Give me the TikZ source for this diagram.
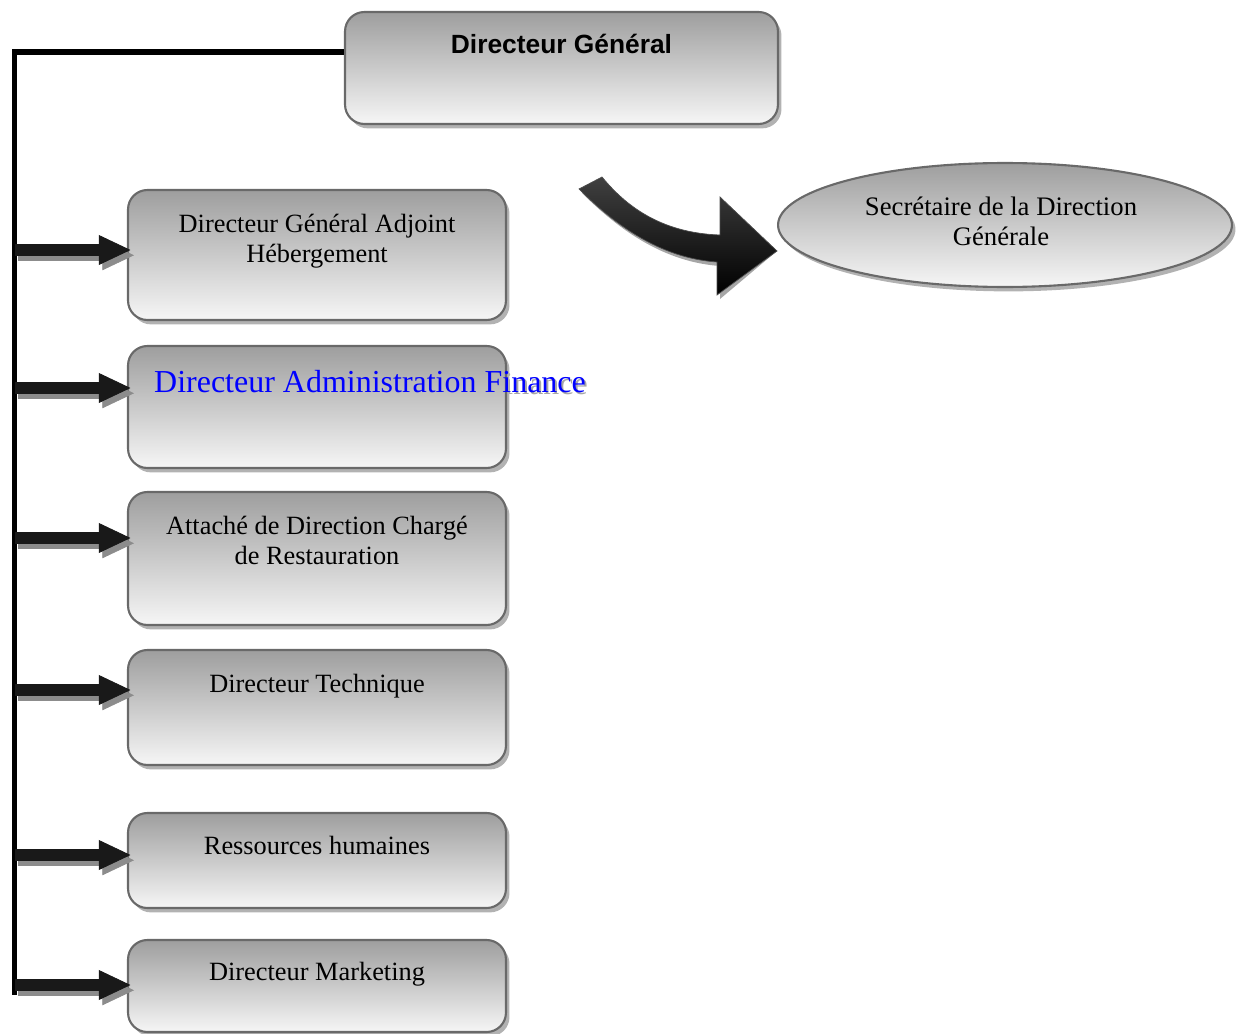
\documentclass[tikz,border=0pt]{standalone}
\usepackage{fontspec}
\setmainfont{Liberation Serif}
\setsansfont{Liberation Sans}
\usetikzlibrary{positioning,shapes.geometric,shadows,arrows.meta}
\definecolor{orgborder}{RGB}{105,105,105}
\definecolor{orgtop}{RGB}{158,158,158}
\definecolor{orgbottom}{RGB}{246,246,246}
\definecolor{orgblue}{RGB}{0,0,255}

\tikzset{
  orgshadow/.style={drop shadow={shadow xshift=2pt, shadow yshift=-2.5pt, fill=black!30, opacity=1}},
  orgbox/.style={draw=orgborder, line width=1.2pt, rounded corners=11pt,
    top color=orgtop, bottom color=orgbottom, minimum width=7.56cm,
    inner sep=0pt, orgshadow},
  orgtxt/.style={font=\fontsize{15}{17}\selectfont, align=center, inner sep=0pt},
  blockarrow/.style={line width=7pt, -{Triangle[width=17pt,length=18pt,line width=0.4pt]}, shorten >=-2pt},
}

\begin{document}
\begin{tikzpicture}[x=0.02cm, y=-0.02cm]
        \useasboundingbox (0,0) rectangle (1237,1034);

        % Top box
        \node[orgbox, minimum width=8.66cm, minimum height=2.24cm] (DG) at (561.5,68) {};
        \node[orgtxt, font=\sffamily\bfseries\fontsize{15}{17}\selectfont, below=0.46cm of DG.north] (tDG) {Directeur Général};

        % Secretary
        \node[ellipse, draw=orgborder, line width=1.2pt, top color=orgtop, bottom color=orgbottom,
              minimum width=9.08cm, minimum height=2.48cm, orgtxt, orgshadow] (SDG) at (1005,225) {};
        \node[orgtxt, font=\fontsize{15.2}{17}\selectfont] (tSDG) at (1001,221) {Secrétaire de la Direction\\Générale};

        % Curved arrow towards secretary
        \coordinate (tip) at (777,251);
        \fill[black!35, shift={(3,4)}] (602,177) .. controls (625,205) and (660,233) .. (720,235)
            -- (720,197) -- (tip) -- (717,295) -- (717,262)
            .. controls (660,258) and (615,225) .. (579,189) -- cycle;
        \draw[black!70, top color=black!75, bottom color=black] (602,177) .. controls (625,205) and (660,233) .. (720,235)
            -- (720,197) -- (tip) -- (717,295) -- (717,262)
            .. controls (660,258) and (615,225) .. (579,189) -- cycle;

        % Boxes
        \node[orgbox, minimum height=2.6cm] (b1) at (317,255) {};
        \node[orgtxt, below=0.5cm of b1.north] (t1) {Directeur Général Adjoint\\Hébergement};

        \node[font=\fontsize{18.2}{20}\selectfont, text=black!35, anchor=base, inner sep=0pt] (t2s) at (372,394) {Directeur Administration Finance};
        \node[orgbox, minimum height=2.44cm] (b2) at (317,407) {};
        \node[font=\fontsize{18.2}{20}\selectfont, text=orgblue, anchor=base, inner sep=0pt] (t2) at (370,392) {Directeur Administration Finance};

        \node[orgbox, minimum height=2.66cm] (b3) at (317,558.5) {};
        \node[orgtxt, below=0.5cm of b3.north] (t3) {Attaché de Direction Chargé\\de Restauration};

        \node[orgbox, minimum height=2.3cm] (b4) at (317,707.5) {};
        \node[orgtxt, below=0.5cm of b4.north] (t4) {Directeur Technique};

        \node[orgbox, minimum height=1.9cm] (b5) at (317,860.5) {};
        \node[orgtxt, below=0.48cm of b5.north] (t5) {Ressources humaines};

        \node[orgbox, minimum height=1.84cm] (b6) at (317,986) {};
        \node[orgtxt, below=0.46cm of b6.north] (t6) {Directeur Marketing};

        % Trunk
        \coordinate (top) at (14.5,52);
        \coordinate (bot) at (14.5,995);
        \draw[line width=3pt, line join=miter] (top -| DG.west) -- (top) -- (bot);

        % Block arrows
        \foreach \b/\y in {b1/250,b2/388,b3/538,b4/690,b5/855,b6/985}{
          \coordinate (s-\b) at (14.5,\y);
          \draw[blockarrow, black!45, transform canvas={shift={(2pt,-3pt)}}] (s-\b) -- (\b.west |- s-\b);
          \draw[blockarrow, black!90] (s-\b) -- (\b.west |- s-\b);
        }
\end{tikzpicture}
\end{document}
